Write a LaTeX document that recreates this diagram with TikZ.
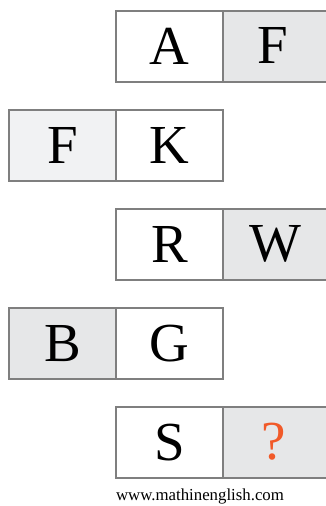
\documentclass[tikz,border=0pt]{standalone}
\usepackage{fontspec}
\setmainfont{Liberation Serif}
\definecolor{cellgray}{HTML}{E6E7E8}
\definecolor{cellpale}{HTML}{F1F2F3}
\definecolor{edgegray}{HTML}{7F7F7F}
\definecolor{qorange}{HTML}{F15A29}
\begin{document}
\begin{tikzpicture}[x=1pt,y=-1pt,
  cellbox/.style={draw=edgegray,line width=2pt,minimum width=107pt,minimum height=71pt,inner sep=0pt,anchor=north west,
    font=\fontsize{55}{55}\selectfont},
  edgebox/.style={cellbox,minimum width=114pt},
  letter/.style={font=\fontsize{55}{55}\selectfont,inner sep=0pt},
  footer/.style={font=\fontsize{16.8}{18}\selectfont,anchor=base}]
\useasboundingbox (0,0) rectangle (326,506);
\clip (0,0) rectangle (326,506);
% row 1
\node[cellbox,fill=white] (a) at (115,10) {A};
\node[edgebox,fill=cellgray] (f1box) at (222,10) {};
\node[letter] (f1) at (273,45.5) {F};
% row 2
\node[cellbox,fill=cellpale] (f2) at (8,109) {F};
\node[cellbox,fill=white] (k) at (115,109) {K};
% row 3
\node[cellbox,fill=white] (r) at (115,208) {R};
\node[edgebox,fill=cellgray] (wbox) at (222,208) {};
\node[letter] (w) at (275,243.5) {W};
% row 4
\node[cellbox,fill=cellgray] (b) at (8,307) {B};
\node[cellbox,fill=white] (g) at (115,307) {G};
% row 5
\node[cellbox,fill=white] (s) at (115,406) {S};
\node[edgebox,fill=cellgray] (qbox) at (222,406) {};
\node[letter,text=qorange] (q) at (274,441.5) {?};
\node[footer] (url) at (200,500) {www.mathinenglish.com};
\end{tikzpicture}
\end{document}
